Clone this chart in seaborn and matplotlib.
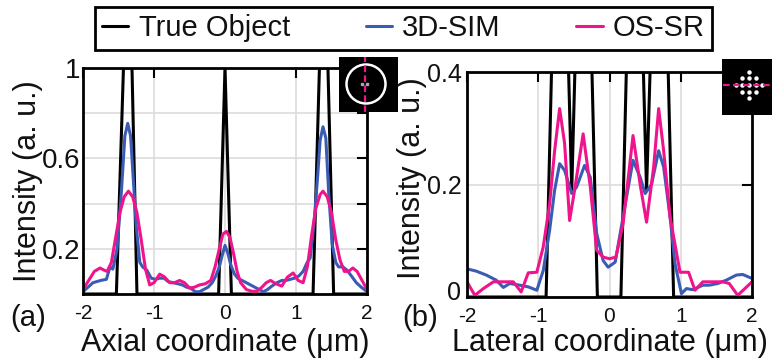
import numpy as np
import pandas as pd
import matplotlib
matplotlib.use("Agg")
import matplotlib.pyplot as plt
import matplotlib.transforms as mtransforms
from matplotlib.patches import Circle
import seaborn as sns

# ---------------- data ----------------
# (a) axial profiles
axial_true_x = [-2.0, -1.53, -1.43, -1.31, -1.24, -0.09, 0.0, 0.09, 1.24, 1.33, 1.45, 1.53, 2.0]
axial_true_y = [0, 0, 1, 1, 0, 0, 1, 0, 0, 1, 1, 0, 0]

axial_sim_x = [-2.0, -1.93, -1.86, -1.75, -1.67, -1.62, -1.58, -1.52, -1.46, -1.41, -1.37, -1.33,
               -1.29, -1.25, -1.2, -1.16, -1.1, -1.04, -0.98, -0.92, -0.86, -0.8, -0.73, -0.66,
               -0.6, -0.54, -0.48, -0.42, -0.36, -0.3, -0.24, -0.18, -0.13, -0.08, -0.04, 0.0,
               0.04, 0.08, 0.13, 0.18, 0.24, 0.3, 0.36, 0.42, 0.48, 0.54, 0.6, 0.66, 0.73, 0.8,
               0.86, 0.92, 0.98, 1.04, 1.1, 1.15, 1.2, 1.25, 1.3, 1.34, 1.38, 1.42, 1.46, 1.51,
               1.56, 1.6, 1.66, 1.72, 1.78, 1.85, 1.92, 2.0]
axial_sim_y = [0.01, 0.03, 0.05, 0.06, 0.065, 0.12, 0.11, 0.2, 0.45, 0.7, 0.755, 0.7,
               0.5, 0.3, 0.14, 0.12, 0.105, 0.07, 0.065, 0.07, 0.07, 0.055, 0.05, 0.045,
               0.04, 0.03, 0.025, 0.01, 0.01, 0.02, 0.03, 0.05, 0.08, 0.12, 0.17, 0.215,
               0.18, 0.13, 0.09, 0.07, 0.06, 0.05, 0.04, 0.03, 0.02, 0.01, 0.02, 0.035, 0.05, 0.06,
               0.06, 0.065, 0.07, 0.08, 0.1, 0.135, 0.16, 0.3, 0.5, 0.68, 0.74, 0.69, 0.45, 0.22,
               0.14, 0.12, 0.12, 0.105, 0.08, 0.05, 0.03, 0.01]

axial_ossr_x = [-2.0, -1.92, -1.84, -1.76, -1.7, -1.66, -1.6, -1.54, -1.48, -1.42, -1.36, -1.3,
                -1.24, -1.18, -1.12, -1.06, -1.0, -0.92, -0.85, -0.78, -0.71, -0.64, -0.57, -0.5,
                -0.43, -0.36, -0.28, -0.2, -0.14, -0.08, -0.03, 0.02, 0.07, 0.12, 0.17, 0.22,
                0.3, 0.38, 0.45, 0.52, 0.58, 0.64, 0.72, 0.8, 0.88, 0.96, 1.03, 1.1, 1.16, 1.22,
                1.28, 1.34, 1.38, 1.44, 1.5, 1.56, 1.62, 1.68, 1.74, 1.8, 1.86, 1.93, 2.0]
axial_ossr_y = [0.02, 0.06, 0.1, 0.115, 0.105, 0.1, 0.14, 0.25, 0.36, 0.43, 0.455, 0.43,
                0.36, 0.24, 0.11, 0.04, 0.05, 0.088, 0.075, 0.05, 0.05, 0.06, 0.05, 0.027,
                0.03, 0.04, 0.045, 0.06, 0.12, 0.2, 0.265, 0.277, 0.25, 0.18, 0.1, 0.05,
                0.02, 0.012, 0.012, 0.03, 0.05, 0.06, 0.045, 0.035, 0.075, 0.093, 0.06, 0.05, 0.12, 0.26,
                0.38, 0.44, 0.455, 0.43, 0.36, 0.24, 0.15, 0.1, 0.1, 0.115, 0.1, 0.06, 0.02]

# (b) lateral profiles
lateral_true_x = [-2.0, -0.89, -0.70, -0.53, -0.36, -0.17, 0.16, 0.35, 0.52, 0.71, 0.90, 2.0]
lateral_true_y = [0, 0, 1, 0.19, 1, 0, 0, 1, 0.19, 1, 0, 0]

lateral_sim_x = [-2.0, -1.87, -1.73, -1.59, -1.49, -1.4, -1.26, -1.14, -1.02, -0.93, -0.84, -0.77,
                 -0.7, -0.63, -0.53, -0.46, -0.35, -0.27, -0.18, -0.09, -0.02, 0.08, 0.19, 0.33,
                 0.43, 0.5, 0.59, 0.69, 0.76, 0.85, 0.92, 1.01, 1.08, 1.17, 1.31, 1.4, 1.52,
                 1.64, 1.78, 1.87, 2.0]
lateral_sim_y = [0.05, 0.046, 0.039, 0.03, 0.017, 0.024, 0.021, 0.018, 0.012, 0.047, 0.119, 0.19,
                 0.237, 0.225, 0.184, 0.196, 0.234, 0.213, 0.113, 0.065, 0.053, 0.062, 0.142, 0.243,
                 0.213, 0.184, 0.2, 0.26, 0.231, 0.142, 0.059, 0.006, 0.015, 0.013, 0.021, 0.021, 0.024,
                 0.03, 0.039, 0.04, 0.033]

lateral_ossr_x = [-2.0, -1.89, -1.77, -1.63, -1.49, -1.35, -1.24, -1.14, -1.02, -0.93, -0.84, -0.77,
                  -0.7, -0.63, -0.56, -0.49, -0.37, -0.27, -0.18, -0.09, 0.0, 0.09, 0.19, 0.33,
                  0.43, 0.52, 0.62, 0.69, 0.76, 0.85, 0.99, 1.11, 1.2, 1.31, 1.45, 1.59, 1.68,
                  1.8, 2.0]
lateral_ossr_y = [0.027, 0.003, 0.015, 0.027, 0.027, 0.027, 0.009, 0.043, 0.044, 0.089, 0.166, 0.26,
                  0.335, 0.273, 0.136, 0.19, 0.29, 0.196, 0.083, 0.071, 0.068, 0.071, 0.13, 0.287,
                  0.2, 0.133, 0.231, 0.335, 0.26, 0.142, 0.044, 0.044, 0.012, 0.027, 0.027, 0.027, 0.024,
                  0.003, 0.027]

series_names = ["True Object", "3D-SIM", "OS-SR"]
series_colors = ["black", "#3a5cb4", "#f0148c"]

axial_ticks = [0.2, 0.4, 0.6, 0.8, 1.0]
axial_ticklabels = ["0.2", "", "0.6", "", "1"]
lateral_ticks = [0, 0.2, 0.4]
lateral_ticklabels = ["0", "0.2", "0.4"]
x_ticks = [-2, -1, 0, 1, 2]
x_ticklabels = ["-2", "-1", "0", "1", "2"]

# ---------------- style ----------------
sns.set_theme(style="white")
plt.rcParams["font.family"] = ["Liberation Sans", "DejaVu Sans"]

W, H = 772, 358
fig = plt.figure(figsize=(W / 100, H / 100), dpi=100)
ax1 = fig.add_axes([83 / W, 1 - 294 / H, 284 / W, 226 / H])
ax2 = fig.add_axes([467 / W, 1 - 297 / H, 285 / W, 225 / H])


def draw_panel(ax, xs, ys, ylim, yticks, yticklabels, xlabel, ylabel_y):
    for (x, y), name, col in zip(zip(xs, ys), series_names, series_colors):
        df = pd.DataFrame({"x": x, "y": y})
        sns.lineplot(data=df, x="x", y="y", ax=ax, color=col, lw=2.2,
                     estimator=None, sort=False, label=name, legend=False)
    ax.set_xlim(-2, 2)
    ax.set_ylim(*ylim)
    ax.set_xticks(x_ticks)
    ax.set_xticklabels(x_ticklabels)
    ax.set_yticks(yticks)
    ax.set_yticklabels(yticklabels)
    ax.grid(True, color="#dcdcdc", lw=1.2)
    ax.set_axisbelow(True)
    for s in ax.spines.values():
        s.set_color("black")
        s.set_linewidth(2)
    ax.tick_params(direction="in", length=7, width=1.5, top=True, right=True,
                   color="black", labelcolor="#111111")
    ax.tick_params(axis="x", labelsize=15, pad=7)
    ax.tick_params(axis="y", labelsize=20, pad=2)
    ax.set_xlabel(xlabel, fontsize=22, color="#111111")
    ax.xaxis.label.set_va("center")
    ax.set_ylabel("Intensity (a. u.)", fontsize=22, color="#111111")
    ax.yaxis.label.set_va("center")
    ax.yaxis.set_label_coords(-0.194, ylabel_y)


draw_panel(ax1, [axial_true_x, axial_sim_x, axial_ossr_x],
           [axial_true_y, axial_sim_y, axial_ossr_y],
           (0, 1), axial_ticks, axial_ticklabels, "Axial coordinate (\u03bcm)", 0.5)
ax1.xaxis.set_label_coords(0.5, -0.217)

draw_panel(ax2, [lateral_true_x, lateral_sim_x, lateral_ossr_x],
           [lateral_true_y, lateral_sim_y, lateral_ossr_y],
           (0, 0.4), lateral_ticks, lateral_ticklabels, "Lateral coordinate (\u03bcm)", 0.53)
ax2.tick_params(axis="y", labelsize=18, pad=4)
ax2.xaxis.set_label_coords(0.5, -0.204)

# lift the "0" on the lateral panel clear of the x tick labels
fig.canvas.draw()
zero_lbl = ax2.yaxis.get_major_ticks()[0].label1
zero_lbl.set_transform(zero_lbl.get_transform()
                       + mtransforms.ScaledTranslation(0, 6 / 100, fig.dpi_scale_trans))

# panel tags
fig.text(28 / W, 1 - 318 / H, "(a)", fontsize=21, ha="center", va="center", color="#111111")
fig.text(420 / W, 1 - 318 / H, "(b)", fontsize=21, ha="center", va="center", color="#111111")

# shared legend across the top
leg = fig.legend(ax1.lines[:3], series_names, loc="center",
                 bbox_to_anchor=(403.5 / W, 1 - 28.5 / H), ncol=3, fontsize=21,
                 frameon=True, fancybox=False, framealpha=1, edgecolor="black",
                 borderpad=0.25, handlelength=0.9, handletextpad=0.35,
                 columnspacing=2.6, borderaxespad=0)
leg.get_frame().set_linewidth(2)
for t in leg.get_texts():
    t.set_color("#111111")

# icon: axial cut through a ring
ins1 = fig.add_axes([339 / W, 1 - 112 / H, 59 / W, 55 / H])
ins1.set_facecolor("black")
ins1.set_xlim(0, 59)
ins1.set_ylim(0, 55)
ins1.set_xticks([])
ins1.set_yticks([])
for s in ins1.spines.values():
    s.set_visible(False)
ins1.add_patch(Circle((27, 28), 19.5, fill=False, ec="white", lw=1.8))
ins1.plot([22.5, 27.5], [28, 28], ls="none", marker="s", ms=1.6, color="#aaaaaa")
ins1.plot([25.5, 25.5], [0, 55], color="#f0148c", lw=1.6, ls=(0, (3, 1.5)))

# icon: lateral cut through a diamond of beads
ins2 = fig.add_axes([722 / W, 1 - 115 / H, 50 / W, 56 / H])
ins2.set_facecolor("black")
ins2.set_xlim(0, 50)
ins2.set_ylim(0, 56)
ins2.set_xticks([])
ins2.set_yticks([])
for s in ins2.spines.values():
    s.set_visible(False)
gi, gj = np.meshgrid(np.arange(-2, 3), np.arange(-2, 3))
keep = np.abs(gi) + np.abs(gj) <= 2
ins2.plot(27 + 6.7 * gi[keep], 30 + 6.7 * gj[keep], ls="none", marker="o",
          ms=3.2, color="white", mec="none")
ins2.plot([1, 50], [30, 30], color="#f0148c", lw=1.6, ls=(0, (3, 1.5)))

fig.savefig("out.png", dpi=100)
